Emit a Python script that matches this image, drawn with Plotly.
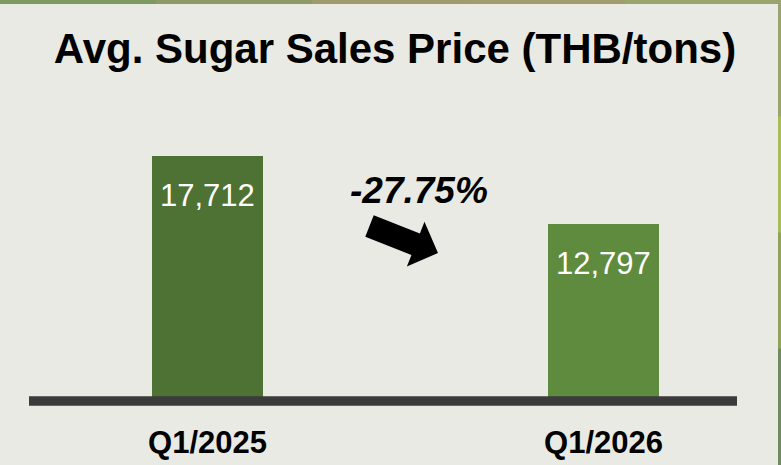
import math
import plotly.graph_objects as go

# ---- data ----
categories = ["Q1/2025", "Q1/2026"]
values = [17712, 12797]
value_labels = ["17,712", "12,797"]
change_label = "-27.75%"
title_text = "Avg. Sugar Sales Price (THB/tons)"

# ---- layout geometry ----
W, H = 781, 465
ML, MR, MT, MB = 29, 44, 100, 64
PW, PH = W - ML - MR, H - MT - MB
YMAX = 21717
XR = [-0.4508, 1.337]

bar_colors = ["#4E7233", "#5E8B3E"]
FONT = "Liberation Sans, Arial, sans-serif"

def px_to_paper(px, py):
    return (px - ML) / PW, (H - MB - py) / PH

fig = go.Figure()
fig.add_trace(go.Bar(
    x=list(range(len(categories))), y=values, width=0.28,
    marker=dict(color=bar_colors, line=dict(width=0)),
    hoverinfo="skip", showlegend=False,
))

# value labels inside bars
for i, (v, lab) in enumerate(zip(values, value_labels)):
    fig.add_annotation(x=i, y=v, text=lab, showarrow=False, yshift=-40,
                       yanchor="middle", xanchor="center",
                       font=dict(family=FONT, size=31, color="white"))

# change label
cx, cy = px_to_paper(419, 190)
fig.add_annotation(xref="paper", yref="paper", x=cx, y=cy, text=change_label,
                   showarrow=False, xanchor="center", yanchor="middle",
                   font=dict(family=FONT, size=37, color="black",
                             weight="bold", style="italic"))

# block arrow (decoration) built from start, tip, widths
sx, sy = 369.5, 226.0
tx, ty = 438.0, 253.0
L = math.hypot(tx - sx, ty - sy)
ux, uy = (tx - sx) / L, (ty - sy) / L
nx, ny = -uy, ux
head_len, shaft_hw, head_hw = 24.0, 11.5, 24.0
bx, by = tx - ux * head_len, ty - uy * head_len
pts = [
    (sx + nx * shaft_hw, sy + ny * shaft_hw),
    (bx + nx * shaft_hw, by + ny * shaft_hw),
    (bx + nx * head_hw, by + ny * head_hw),
    (tx, ty),
    (bx - nx * head_hw, by - ny * head_hw),
    (bx - nx * shaft_hw, by - ny * shaft_hw),
    (sx - nx * shaft_hw, sy - ny * shaft_hw),
]
pp = [px_to_paper(a, b) for a, b in pts]
path = "M " + " L ".join(f"{a:.5f},{b:.5f}" for a, b in pp) + " Z"
fig.add_shape(type="path", xref="paper", yref="paper", path=path,
              fillcolor="black", line=dict(width=0), layer="above")

# baseline bar (paper-referenced so it is not clipped at the plot edge)
fig.add_shape(type="line", xref="paper", yref="paper", x0=0, x1=1, y0=0, y1=0,
              line=dict(color="#3B3B3B", width=9.5), layer="above")

# decorative frame strips (top and right)
top_cols = ["#7E9A62", "#8E9B68", "#A29A6F", "#A09C70", "#9AA46C"]
n = len(top_cols)
for k, c in enumerate(top_cols):
    x0, y0 = px_to_paper(W * k / n, 0)
    x1, y1 = px_to_paper(W * (k + 1) / n + 1, 4)
    fig.add_shape(type="rect", xref="paper", yref="paper",
                  x0=x0, x1=x1, y0=y1, y1=y0, fillcolor=c, line=dict(width=0))
right_cols = ["#9AA46C", "#A7BC55", "#8FA35A", "#6F8B5E"]
m = len(right_cols)
for k, c in enumerate(right_cols):
    x0, y0 = px_to_paper(778, H * k / m)
    x1, y1 = px_to_paper(W + 1, H * (k + 1) / m + 1)
    fig.add_shape(type="rect", xref="paper", yref="paper",
                  x0=x0, x1=x1, y0=y1, y1=y0, fillcolor=c, line=dict(width=0))

fig.update_layout(
    width=W, height=H,
    margin=dict(l=ML, r=MR, t=MT, b=MB, pad=0, autoexpand=False),
    paper_bgcolor="#E9EAE3", plot_bgcolor="rgba(0,0,0,0)",
    title=dict(text=title_text, xref="container", yref="container",
               x=395 / W, y=1 - 48 / H, xanchor="center", yanchor="middle",
               automargin=False,
               font=dict(family=FONT, size=42, color="black", weight="bold")),
    xaxis=dict(range=XR, tickvals=list(range(len(categories))), ticktext=categories,
               showgrid=False, zeroline=False, showline=False, ticks="",
               automargin=False,
               tickfont=dict(family=FONT, size=31, color="black", weight="bold"),
               ticklabelstandoff=20, fixedrange=True),
    yaxis=dict(range=[0, YMAX], visible=False, showgrid=False, zeroline=False,
               automargin=False, fixedrange=True),
    bargap=0, showlegend=False,
)

fig.write_html(
    "out.html",
    config={"displayModeBar": False},
    post_script="document.body.style.margin='0';document.body.style.background='#E9EAE3';",
)
